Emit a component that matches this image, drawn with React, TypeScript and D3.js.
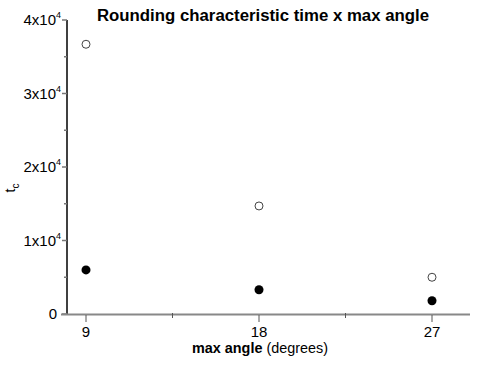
import React from "react";
import * as d3 from "d3";

// max angle (degrees) vs characteristic time t_c
const angles = [9, 18, 27];
const openValues = [36700, 14700, 5000];
const filledValues = [6000, 3300, 1800];
const yMajorTicks = [0, 10000, 20000, 30000, 40000];
const yMinorTicks = [5000, 15000, 25000, 35000];
const xMajorTicks = [9, 18, 27];
const xMinorTicks = [13.5, 22.5];

export default function App() {
  const ref = React.useRef<SVGSVGElement>(null);

  React.useEffect(() => {
    const svg = d3.select(ref.current);
    svg.selectAll("*").remove();

    const x = d3.scaleLinear().domain([9, 27]).range([86, 432]);
    const y = d3.scaleLinear().domain([0, 40000]).range([314, 20]);
    const font = "'Liberation Sans', Arial, sans-serif";

    // title
    svg
      .append("text")
      .attr("x", 263)
      .attr("y", 21)
      .attr("text-anchor", "middle")
      .attr("font-family", font)
      .attr("font-weight", "bold")
      .attr("font-size", 16.8)
      .text("Rounding characteristic time x max angle");

    // y axis
    svg
      .append("line")
      .attr("x1", 67)
      .attr("x2", 67)
      .attr("y1", y(40000))
      .attr("y2", y(0))
      .attr("stroke", "#000")
      .attr("stroke-width", 1.5);

    svg
      .selectAll(".ymaj")
      .data(yMajorTicks)
      .enter()
      .append("line")
      .attr("x1", 62)
      .attr("x2", 67)
      .attr("y1", (d) => y(d))
      .attr("y2", (d) => y(d))
      .attr("stroke", "#777")
      .attr("stroke-width", 1.5);

    svg
      .selectAll(".ymin")
      .data(yMinorTicks)
      .enter()
      .append("line")
      .attr("x1", 64)
      .attr("x2", 67)
      .attr("y1", (d) => y(d))
      .attr("y2", (d) => y(d))
      .attr("stroke", "#777")
      .attr("stroke-width", 1.5);

    const ylab = svg
      .selectAll(".ylab")
      .data(yMajorTicks)
      .enter()
      .append("text")
      .attr("x", 61)
      .attr("y", (d) => y(d) + 5)
      .attr("text-anchor", "end")
      .attr("font-family", font)
      .attr("font-size", 15);
    ylab.each(function (d) {
      const t = d3.select(this);
      if (d === 0) {
        t.attr("x", 57).text("0");
        return;
      }
      t.append("tspan").text(d / 10000 + "x10");
      t.append("tspan").attr("font-size", 9).attr("dy", -7).text("4");
    });

    // y title
    const yt = svg
      .append("text")
      .attr("transform", "translate(15,188) rotate(-90)")
      .attr("text-anchor", "middle")
      .attr("font-family", font)
      .attr("font-size", 14);
    yt.append("tspan").text("t");
    yt.append("tspan").attr("font-size", 10).attr("dy", 4).text("c");

    // x axis
    svg
      .append("line")
      .attr("x1", 61)
      .attr("x2", 470)
      .attr("y1", 314.5)
      .attr("y2", 314.5)
      .attr("stroke", "#888")
      .attr("stroke-width", 2);

    svg
      .selectAll(".xmaj")
      .data(xMajorTicks)
      .enter()
      .append("line")
      .attr("x1", (d) => x(d))
      .attr("x2", (d) => x(d))
      .attr("y1", 315)
      .attr("y2", 322)
      .attr("stroke", "#555")
      .attr("stroke-width", 1);

    svg
      .selectAll(".xmin")
      .data(xMinorTicks)
      .enter()
      .append("line")
      .attr("x1", (d) => x(d))
      .attr("x2", (d) => x(d))
      .attr("y1", 313)
      .attr("y2", 318)
      .attr("stroke", "#555")
      .attr("stroke-width", 1);

    svg
      .selectAll(".xlab")
      .data(xMajorTicks)
      .enter()
      .append("text")
      .attr("x", (d) => x(d))
      .attr("y", 337)
      .attr("text-anchor", "middle")
      .attr("font-family", font)
      .attr("font-size", 15)
      .text((d) => d);

    const xt = svg
      .append("text")
      .attr("x", 260)
      .attr("y", 353)
      .attr("text-anchor", "middle")
      .attr("font-family", font)
      .attr("font-size", 14.4);
    xt.append("tspan").attr("font-weight", "bold").text("max angle");
    xt.append("tspan").text(" (degrees)");

    // open markers
    svg
      .selectAll(".open")
      .data(angles)
      .enter()
      .append("circle")
      .attr("cx", (d) => x(d))
      .attr("cy", (d, i) => y(openValues[i]))
      .attr("r", 4)
      .attr("fill", "#fff")
      .attr("stroke", "#444")
      .attr("stroke-width", 1);

    // filled markers
    svg
      .selectAll(".filled")
      .data(angles)
      .enter()
      .append("circle")
      .attr("cx", (d) => x(d))
      .attr("cy", (d, i) => y(filledValues[i]))
      .attr("r", 4.5)
      .attr("fill", "#000");
  }, []);

  return (
    <div style={{ position: "absolute", left: 0, top: 0 }}>
      <svg ref={ref} width={503} height={368} style={{ display: "block", background: "#fff" }} />
    </div>
  );
}
